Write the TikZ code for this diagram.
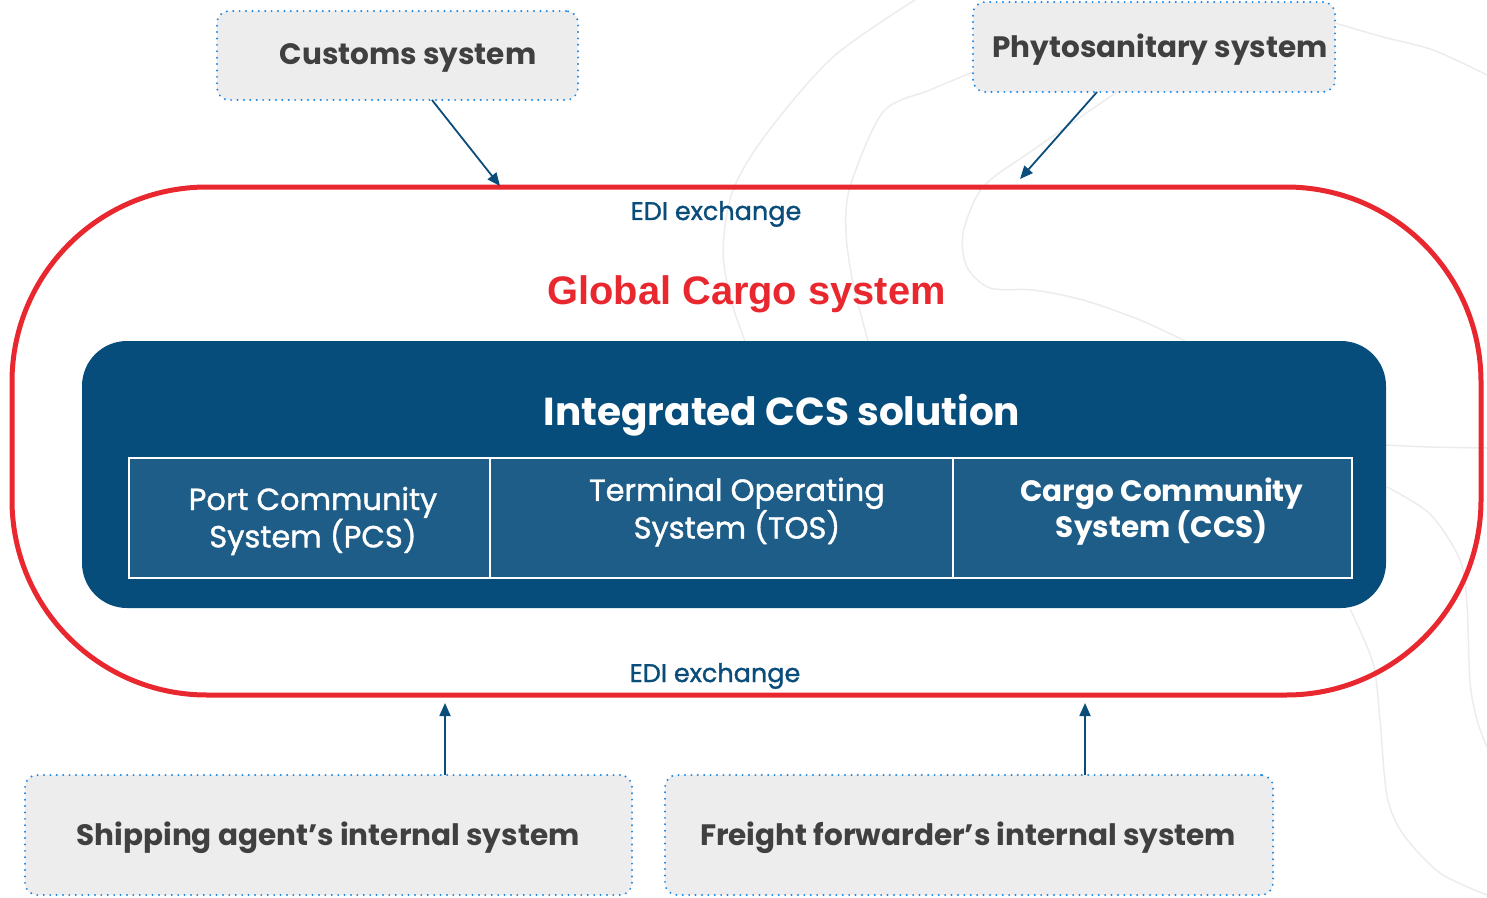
\documentclass[tikz,border=0pt]{standalone}
\usepackage{fontspec}
\setmainfont{Poppins}
\newfontfamily\arialfont{Liberation Sans}
\newfontfamily\medfont{Poppins}[FakeBold=1.2]
\usetikzlibrary{arrows.meta,calc}
\definecolor{ccsblue}{RGB}{6,77,123}
\definecolor{cellblue}{RGB}{29,93,135}
\definecolor{boxgrey}{RGB}{237,237,237}
\definecolor{dotblue}{RGB}{30,136,229}
\definecolor{txtgrey}{RGB}{64,64,64}
\definecolor{ediblue}{RGB}{11,77,122}
\definecolor{gcred}{RGB}{232,39,47}
\definecolor{faint}{RGB}{236,236,236}
\tikzset{
  extbox/.style={draw=dotblue, fill=boxgrey, line width=2.2pt, dash pattern=on 0pt off 6.4pt, line cap=round, rounded corners=12pt, inner sep=0pt, outer sep=0pt},
  exttext/.style={text=txtgrey, font=\bfseries\fontsize{29.5}{34}\selectfont, inner sep=0pt},
  cellbox/.style={draw=white, fill=cellblue, line width=2pt, inner sep=0pt, outer sep=0pt},
  celltext/.style={text=white, align=center, font=\medfont\fontsize{30.5}{35}\selectfont, inner sep=0pt},
  conn/.style={draw=ediblue, line width=1.8pt, -{Triangle[length=13pt,width=11pt]}},
  bgline/.style={draw=faint, line width=1.5pt},
  edi/.style={text=ediblue, font=\medfont\fontsize{25.5}{28}\selectfont, inner sep=0pt}
}
\begin{document}
\begin{tikzpicture}[x=1pt,y=-1pt]
\useasboundingbox (0,0) rectangle (1487,897);
% faint decorative background lines
\draw[bgline] plot[smooth] coordinates {(915,0) (833,57) (767,133) (733,190) (723,250) (731,300) (745,341)};
\draw[bgline] plot[smooth] coordinates {(973,72) (930,90) (883,112) (850,187) (846,233) (853,283) (868,341)};
\draw[bgline] plot[smooth] coordinates {(1117,92) (1033,150) (983,187) (963,233) (967,267) (990,288) (1033,290) (1083,300) (1140,320) (1185,341)};
\draw[bgline] plot[smooth] coordinates {(1335,23) (1383,37) (1433,50) (1487,75)};
\draw[bgline] plot[smooth] coordinates {(1386,445) (1430,447) (1487,448)};
\draw[bgline] plot[smooth] coordinates {(1387,487) (1430,514) (1460,560) (1467,605) (1470,682) (1477,720) (1487,747)};
\draw[bgline] plot[smooth] coordinates {(1350,609) (1373,663) (1380,720) (1387,796) (1403,834) (1440,873) (1487,895)};
% Global cargo outline
\node[draw=gcred, line width=5pt, rounded corners=195pt, minimum width=1469pt, minimum height=508pt, inner sep=0pt, outer sep=0pt] (gcs) at (746.5,441) {};
\node[text=gcred, font=\arialfont\bfseries\fontsize{39.8}{44}\selectfont, inner sep=0pt] (gctitle) at (746.5,294) {Global Cargo system};
\node[edi] (editop) at (716,214) {EDI exchange};
\node[edi] (edibot) at (715,676) {EDI exchange};
% Integrated CCS box
\node[fill=ccsblue, rounded corners=45pt, minimum width=1304pt, minimum height=267pt, inner sep=0pt, outer sep=0pt] (ccs) at (734,474.5) {};
\node[text=white, font=\bfseries\fontsize{39}{44}\selectfont, inner sep=0pt] (ccstitle) at (782,415) {Integrated CCS solution};
\node[cellbox, minimum width=361pt, minimum height=120pt] (pcs) at (309.5,518) {};
\node[cellbox, minimum width=463pt, minimum height=120pt] (tos) at (721.5,518) {};
\node[cellbox, minimum width=399pt, minimum height=120pt] (ccsc) at (1152.5,518) {};
\node[celltext] (pcst) at (313,521) {Port Community\\System (PCS)};
\node[celltext] (tost) at (737,512) {Terminal Operating\\System (TOS)};
\node[celltext, font=\bfseries\fontsize{29.5}{35}\selectfont] (ccst) at (1162,512) {Cargo Community\\System (CCS)};
% external systems
\node[extbox, minimum width=361pt, minimum height=89pt] (customs) at (397.5,55.5) {};
\node[exttext] (customst) at (408,58) {Customs system};
\node[extbox, minimum width=362pt, minimum height=90pt] (phyto) at (1154,47) {};
\node[exttext] (phytot) at (1160,50) {Phytosanitary system};
\node[extbox, minimum width=607pt, minimum height=120pt] (ship) at (328.5,835) {};
\node[exttext] (shipt) at (328,838) {Shipping agent\char"0027 s internal system};
\node[extbox, minimum width=608pt, minimum height=120pt] (freight) at (969,835) {};
\node[exttext] (freightt) at (968,838) {Freight forwarder’s internal system};
% connectors
\draw[conn] ([xshift=34.5pt]customs.south) -- ([xshift=-246.5pt,yshift=1pt]gcs.north);
\draw[conn] ([xshift=-57pt]phyto.south) -- ([xshift=273.5pt,yshift=8pt]gcs.north);
\draw[conn] ([xshift=116.5pt]ship.north) -- ([xshift=-301.5pt,yshift=-8pt]gcs.south);
\draw[conn] ([xshift=116pt]freight.north) -- ([xshift=338.5pt,yshift=-8pt]gcs.south);
\end{tikzpicture}
\end{document}
